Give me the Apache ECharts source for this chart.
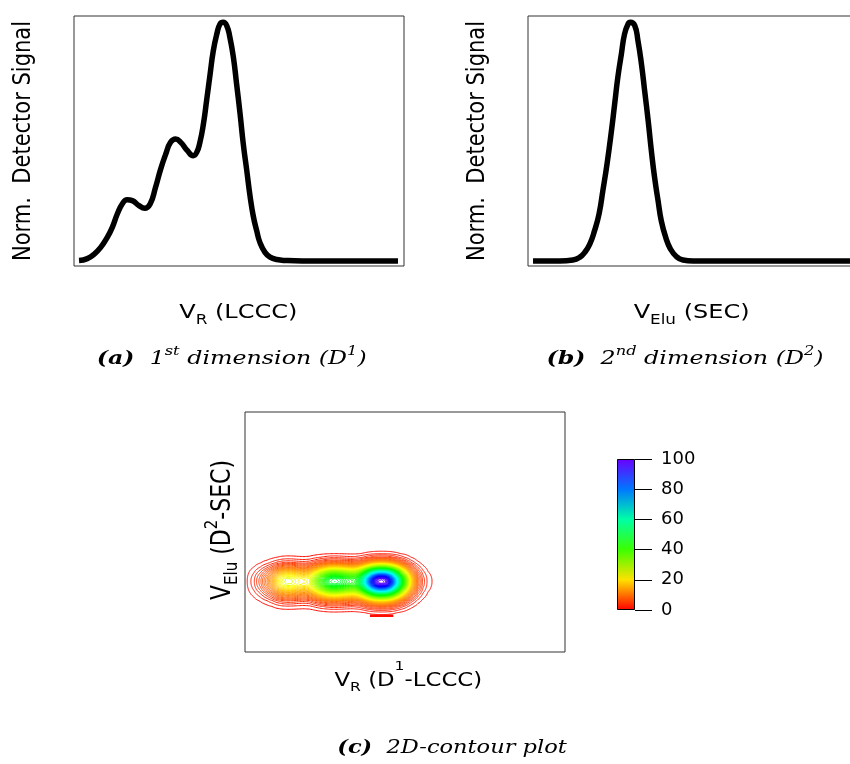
<!DOCTYPE html>
<html>
<head>
<meta charset="utf-8">
<script src="https://cdn.jsdelivr.net/npm/echarts@6/dist/echarts.min.js"></script>
<style>
html, body { margin: 0; padding: 0; background: #fff; }
#chart { width: 850px; height: 764px; }
</style>
</head>
<body>
<div id="chart"></div>
<script>
// 1st dimension (LCCC) trace: [V_R, normalised detector signal]
var lcccTrace = [[0,0.002],[2.6,0.01],[4.7,0.028],[6.8,0.057],[8.9,0.1],[10.4,0.14],[12,0.197],[13.6,0.24],
  [15.1,0.257],[16.7,0.253],[18.8,0.232],[20.6,0.221],[22.3,0.239],[24,0.309],[25.6,0.385],[27.2,0.448],
  [28.7,0.497],[30.3,0.511],[31.9,0.497],[34,0.462],[35.8,0.441],[36.9,0.455],[37.9,0.497],[39,0.574],
  [40,0.672],[41.1,0.783],[42.1,0.881],[43.2,0.951],[44.2,0.993],[45.2,1.0],[46.3,0.986],[47.3,0.937],
  [48.4,0.853],[49.4,0.742],[50.5,0.616],[51.5,0.49],[52.6,0.378],[53.6,0.274],[54.6,0.19],[55.7,0.127],
  [56.7,0.078],[58.3,0.036],[59.9,0.016],[62,0.006],[65,0.002],[70,0],[80,0],[90,0],[100,0]];

// 2nd dimension (SEC) trace: [V_Elu, normalised detector signal]
var secTrace = [[0,0],[8.4,0],[12.5,0.004],[14.6,0.015],[16.2,0.036],[17.8,0.071],[19.3,0.127],[20.7,0.197],
  [21.9,0.295],[23.2,0.406],[24.6,0.546],[25.6,0.658],[26.6,0.77],[27.7,0.867],[28.7,0.951],[29.8,0.993],
  [30.5,1.0],[31.9,0.986],[32.9,0.923],[34,0.825],[35,0.713],[36.1,0.588],[37.1,0.462],[38.1,0.351],
  [39.2,0.253],[40.2,0.169],[41.6,0.099],[43.1,0.05],[45,0.018],[47,0.004],[50.2,0],[60,0],[80,0],[100,0]];

// small stray level-1 contour under the main peak (panel c)
var strayContour = [[41.5,13.1],[48.9,13.1]];

// colour scale of the contour plot
var scaleMin = 0, scaleMax = 100, scaleStep = 20;
var levelStep = 1;

var SANS = 'DejaVu Sans', SERIF = 'DejaVu Serif';

function levelColor(v) {
  var h = v / 100 * 265 / 60, x = 1 - Math.abs(h % 2 - 1), r, g, b;
  if (h < 1) { r = 1; g = x; b = 0; }
  else if (h < 2) { r = x; g = 1; b = 0; }
  else if (h < 3) { r = 0; g = 1; b = x; }
  else if (h < 4) { r = 0; g = x; b = 1; }
  else { r = x; g = 0; b = 1; }
  return 'rgb(' + Math.round(r * 255) + ',' + Math.round(g * 255) + ',' + Math.round(b * 255) + ')';
}

// 2D map = product of the two traces (bilinear between the read points),
// sampled a few times per cell so the marching-squares contours come out rounded
var SUB = 4;
function refine(trace) {
  var xs = [], vs = [];
  for (var i = 0; i < trace.length - 1; i++) {
    for (var s = 0; s < SUB; s++) {
      var t = s / SUB;
      xs.push(trace[i][0] + t * (trace[i + 1][0] - trace[i][0]));
      vs.push(trace[i][1] + t * (trace[i + 1][1] - trace[i][1]));
    }
  }
  xs.push(trace[trace.length - 1][0]); vs.push(trace[trace.length - 1][1]);
  return [xs, vs];
}
var rx = refine(lcccTrace), ry = refine(secTrace);
var gx = rx[0], fx = rx[1], gy = ry[0], fy = ry[1];
var field = gy.map(function (y, j) {
  return gx.map(function (x, i) { return 100 * fx[i] * fy[j]; });
});

function contourAt(level) {
  var segs = [];
  for (var j = 0; j < gy.length - 1; j++) {
    if (fy[j] === 0 && fy[j + 1] === 0) continue;
    for (var i = 0; i < gx.length - 1; i++) {
      var c = [[gx[i], gy[j], field[j][i]], [gx[i + 1], gy[j], field[j][i + 1]],
               [gx[i + 1], gy[j + 1], field[j + 1][i + 1]], [gx[i], gy[j + 1], field[j + 1][i]]];
      var pts = [], n = 0;
      for (var e = 0; e < 4; e++) {
        var a = c[e], b = c[(e + 1) % 4];
        if ((a[2] - level) * (b[2] - level) < 0) {
          var t = (level - a[2]) / (b[2] - a[2]);
          pts.push([a[0] + t * (b[0] - a[0]), a[1] + t * (b[1] - a[1])]);
          n++;
        } else {
          pts.push(null);
        }
      }
      if (n === 2) {
        var h = pts.filter(function (p) { return p; });
        segs.push([h[0], h[1]]);
      } else if (n === 4) {
        var centre = (c[0][2] + c[1][2] + c[2][2] + c[3][2]) / 4;
        if ((centre - level) * (c[0][2] - level) > 0) {
          segs.push([pts[0], pts[1]]); segs.push([pts[2], pts[3]]);
        } else {
          segs.push([pts[3], pts[0]]); segs.push([pts[1], pts[2]]);
        }
      }
    }
  }
  return segs;
}

var contourLevels = [];
for (var lv = scaleMin + levelStep; lv < scaleMax; lv += levelStep) contourLevels.push(lv);
var contourSegs = contourLevels.map(function (l) { return contourAt(l + 1e-7); });

function renderContour(params, api) {
  var segs = contourSegs[params.dataIndex];
  if (!segs.length) return null;
  var d = '';
  for (var k = 0; k < segs.length; k++) {
    var p = api.coord(segs[k][0]), q = api.coord(segs[k][1]);
    d += 'M' + p[0].toFixed(2) + ' ' + p[1].toFixed(2) + 'L' + q[0].toFixed(2) + ' ' + q[1].toFixed(2);
  }
  return {
    type: 'path',
    shape: { pathData: d },
    style: { stroke: levelColor(contourLevels[params.dataIndex]), fill: 'none', lineWidth: 1 }
  };
}

// rich text with sub/superscripts (glyphs pinned to line top/bottom, moved in by padding)
function mkRich(family, size, italic) {
  var H = 44;
  var small = Math.round(size * 0.7);
  var base = { fontFamily: family, fontSize: size, lineHeight: H, verticalAlign: 'middle', fill: '#000' };
  if (italic) base.fontStyle = 'italic';
  function part(extra) { var o = {}; for (var k in base) o[k] = base[k]; for (k in extra) o[k] = extra[k]; return o; }
  var edge = H / 2 - small / 2;
  return {
    n: base,
    b: part({ fontWeight: 'bold' }),
    sub: part({ fontSize: small, verticalAlign: 'bottom', padding: [0, 0, Math.round(edge - size * 0.33), 0] }),
    sup: part({ fontSize: small, verticalAlign: 'top', padding: [Math.round(edge - size * 0.42), 0, 0, 0] }),
    hsup: part({ fontSize: small, verticalAlign: 'top', padding: [Math.round(edge - size * 0.75), 0, 0, 0] })
  };
}

function label(x, y, text, rich, extra) {
  var el = {
    type: 'text', x: x, y: y, silent: true, scaleX: 1.2,
    style: { text: text, rich: rich, fill: '#000', align: 'center', verticalAlign: 'middle' }
  };
  if (extra) for (var k in extra) el[k] = extra[k];
  return el;
}
var vertical = { rotation: Math.PI / 2, scaleX: 1, scaleY: 1.2 };
var wideCap = { scaleX: 1.25 };

var sans20 = mkRich(SANS, 20, false);
var sans19 = mkRich(SANS, 19, false);
var sans21 = mkRich(SANS, 21, false);
var sans22 = mkRich(SANS, 22, false);
var capRich = mkRich(SERIF, 19, true);
var capRichC = mkRich(SERIF, 18, true);

var chart = echarts.init(document.getElementById('chart'), null, { renderer: 'canvas' });

function hiddenAxis(gridIndex, min, max) {
  return { gridIndex: gridIndex, type: 'value', min: min, max: max, show: false };
}
function grid(l, t, w, h) {
  return { left: l, top: t, width: w, height: h, show: true, borderColor: '#333', borderWidth: 1,
    backgroundColor: 'transparent', outerBoundsMode: 'none' };
}

var option = {
  animation: false,
  backgroundColor: '#fff',
  grid: [
    grid(74, 16, 330, 250),
    grid(528, 16, 330, 250),
    grid(245, 412, 320, 240),
    { left: 617, top: 459, width: 18, height: 151, show: false, outerBoundsMode: 'none' }
  ],
  xAxis: [
    hiddenAxis(0, -1.57, 101.88),
    hiddenAxis(1, -1.57, 101.88),
    hiddenAxis(2, 1.9, 103.3),
    { gridIndex: 3, type: 'category', data: ['scale'], show: false }
  ],
  yAxis: [
    hiddenAxis(0, -0.021, 1.0264),
    hiddenAxis(1, -0.021, 1.0264),
    hiddenAxis(2, -5.55, 117.55),
    {
      gridIndex: 3, type: 'value', min: scaleMin, max: scaleMax, interval: scaleStep, position: 'right',
      axisLine: { show: false },
      axisTick: { show: true, length: 17, lineStyle: { color: '#000', width: 1 } },
      axisLabel: { margin: 26, fontSize: 18, fontFamily: SANS, color: '#000' },
      splitLine: { show: false }
    }
  ],
  series: [
    {
      type: 'line', xAxisIndex: 0, yAxisIndex: 0, data: lcccTrace, smooth: 0.5,
      showSymbol: false, lineStyle: { color: '#000', width: 5.5 }
    },
    {
      type: 'line', xAxisIndex: 1, yAxisIndex: 1, data: secTrace, smooth: 0.5,
      showSymbol: false, lineStyle: { color: '#000', width: 5.5 }
    },
    {
      type: 'custom', xAxisIndex: 2, yAxisIndex: 2, clip: true,
      data: contourLevels.map(function (l) { return [l, l]; }),
      renderItem: renderContour
    },
    {
      type: 'line', xAxisIndex: 2, yAxisIndex: 2, data: strayContour,
      showSymbol: false, lineStyle: { color: levelColor(1), width: 2.5 }
    },
    {
      type: 'bar', xAxisIndex: 3, yAxisIndex: 3, data: [scaleMax], barWidth: '100%',
      itemStyle: {
        borderColor: '#000', borderWidth: 1,
        color: new echarts.graphic.LinearGradient(0, 0, 0, 1, [0, 0.2, 0.4, 0.6, 0.8, 1].map(function (t) {
          return { offset: t, color: levelColor(scaleMax * (1 - t)) };
        }))
      }
    }
  ],
  graphic: [
    label(23.7, 141, '{n|Norm.  Detector Signal}', sans21, vertical),
    label(477.5, 141, '{n|Norm.  Detector Signal}', sans21, vertical),
    label(238.3, 313, '{n|V}{sub|R}{n| (LCCC)}', sans20),
    label(691.6, 313, '{n|V}{sub|Elu}{n| (SEC)}', sans20),
    label(231.7, 359, '{b|(a)}{n|  1}{sup|st}{n| dimension (D}{sup|1}{n|)}', capRich, wideCap),
    label(685, 359, '{b|(b)}{n|  2}{sup|nd}{n| dimension (D}{sup|2}{n|)}', capRich, wideCap),
    label(223.3, 530, '{n|V}{sub|Elu}{n| (D}{sup|2}{n|-SEC)}', sans22, vertical),
    label(408.3, 681, '{n|V}{sub|R}{n| (D}{hsup|1}{n|-LCCC)}', sans19),
    label(452, 748, '{b|(c)}{n|  2D-contour plot}', capRichC, wideCap)
  ]
};
chart.setOption(option);
</script>
</body>
</html>
